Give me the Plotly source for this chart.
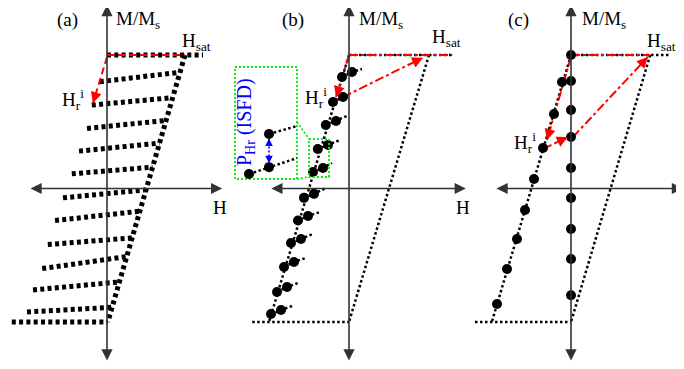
import math
import plotly.graph_objects as go

# ---------------- data (H in arbitrary field units, M in M/Ms) ----------------
# Panel (a): full FORC set
a_top_h = [0.0, 1.2]
a_top_m = [1.0, 1.0]
a_bottom_h = [-1.19, 0.01]
a_bottom_m = [-1.0, -1.0]
a_branch_h = [0.975, 0.01]
a_branch_m = [1.0, -1.0]
a_forc_hr = [-0.09, -0.19, -0.25, -0.35, -0.44, -0.55, -0.65, -0.74, -0.81, -0.925, -1.0]
a_forc_m_start = [0.80, 0.625, 0.45, 0.28, 0.11, -0.07, -0.24, -0.42, -0.60, -0.76, -0.925]
a_forc_h_end = [0.90, 0.81, 0.74, 0.655, 0.57, 0.485, 0.41, 0.31, 0.245, 0.15, 0.06]
a_forc_m_end = [0.87, 0.68, 0.51, 0.34, 0.16, -0.01, -0.17, -0.37, -0.51, -0.70, -0.89]
a_arrow_h = [0.0, -0.175]
a_arrow_m = [0.985, 0.64]
a_sat_h = [0.0, 0.975]
a_sat_m = [1.0, 1.0]

# Panel (b): reversal points + first FORC points
b_desc_h = [1.0, 0.0]
b_desc_m = [1.0, -1.0]
b_asc_h = [0.0, -1.0]
b_asc_m = [1.0, -1.0]
b_bottom_h = [-1.21, 0.0]
b_bottom_m = [-1.0, -1.0]
b_top_h = [0.0, 1.29]
b_top_m = [1.0, 1.0]
b_hr_h = [-0.0875, -0.2, -0.29, -0.39, -0.45, -0.5625, -0.6375, -0.725, -0.8125, -0.9, -0.975]
b_hr_m = [0.835, 0.648, 0.476, 0.296, 0.124, -0.07, -0.24, -0.408, -0.588, -0.775, -0.94]
b_next_h = [0.0375, -0.075, -0.1625, -0.2625, -0.325, -0.4375, -0.5125, -0.6, -0.6875, -0.775, -0.85]
b_next_m = [0.873, 0.685, 0.506, 0.326, 0.154, -0.04, -0.206, -0.378, -0.55, -0.738, -0.91]
b_tail_h = [0.1625, -0.075, -0.025, -0.1125, -0.2125, -0.2875, -0.3625, -0.45, -0.5375, -0.6375, -0.7125]
b_tail_m = [0.895, 0.685, 0.543, 0.363, 0.191, 0.004, -0.176, -0.34, -0.52, -0.708, -0.88]
b_red1_h = [0.0, -0.1625]
b_red1_m = [1.0, 0.685]
b_red2_h = [-0.075, 0.925]
b_red2_m = [0.685, 0.98]
# inset of panel (b)
b_box_h = [-1.425, -0.65, -0.65, -1.425, -1.425]
b_box_m = [0.91, 0.91, 0.071, 0.071, 0.91]
b_zoom_h = [-0.5, -0.25, -0.25, -0.5, -0.5]
b_zoom_m = [0.37, 0.37, 0.086, 0.086, 0.37]
b_link1_h = [-0.65, -0.5]
b_link1_m = [0.498, 0.37]
b_link2_h = [-0.65, -0.5]
b_link2_m = [0.071, 0.086]
b_in_dots_h = [-1.25, -1.0, -1.0]
b_in_dots_m = [0.108, 0.16, 0.408]
b_in_low_h = [-1.25, -0.65]
b_in_low_m = [0.108, 0.228]
b_in_up_h = [-1.0, -0.65]
b_in_up_m = [0.408, 0.468]
b_blue_h = [-1.0, -1.0]
b_blue_m = [0.375, 0.19]

# Panel (c): FORC along the axis
c_desc_h = [0.99, 0.0]
c_desc_m = [1.0, -1.0]
c_asc_h = [0.0, -0.99]
c_asc_m = [1.0, -1.0]
c_bottom_h = [-1.2, 0.0]
c_bottom_m = [-1.0, -1.0]
c_top_h = [0.0, 1.24]
c_top_m = [1.0, 1.0]
c_axis_dot_h = [0.0, 0.0, 0.0, 0.0, 0.0, 0.0, 0.0, 0.0, 0.0]
c_axis_dot_m = [1.0, 0.805, 0.588, 0.386, 0.154, -0.071, -0.303, -0.528, -0.8]
c_branch_dot_h = [-0.1125, -0.2125, -0.35, -0.4625, -0.575, -0.675, -0.8, -0.925]
c_branch_dot_m = [0.798, 0.558, 0.303, 0.071, -0.161, -0.378, -0.603, -0.865]
c_red1_h = [0.0, -0.3]
c_red1_m = [0.985, 0.363]
c_red2_h = [-0.3, -0.04]
c_red2_m = [0.31, 0.386]
c_red3_h = [0.025, 0.96]
c_red3_m = [0.386, 0.985]
c_sat_h = [0.0, 0.99]
c_sat_m = [1.0, 1.0]

# ---------------- geometry / style ----------------
W, HF = 684, 369
PAGE_OFF = 8          # page body margin that shifts the figure in the browser
PX_H = 80.0
PX_M = 133.5
M0_PX = 188.5 - PAGE_OFF
ORIGIN = {"x": 107 - PAGE_OFF, "x2": 349 - PAGE_OFF, "x3": 571 - PAGE_OFF}
FONT = "Liberation Serif"
AXC = "#333333"
RED = "#ff0000"
GREEN = "#00ee00"
BLUE = "#0000ff"
DOT = "2.5px,2.5px"
BEAD = "4px,3.3px"

fig = go.Figure()


def line(ax, h, m, color="black", width=2.5, dash=DOT):
    fig.add_trace(go.Scatter(x=h, y=m, xaxis=ax, yaxis="y", mode="lines",
                             line=dict(color=color, width=width, dash=dash),
                             hoverinfo="skip", showlegend=False))


def dots(ax, h, m, size=10):
    fig.add_trace(go.Scatter(x=h, y=m, xaxis=ax, yaxis="y", mode="markers",
                             marker=dict(color="black", size=size, line=dict(width=0)),
                             hoverinfo="skip", showlegend=False))


def head(ax, h, m, color, L=9, width=2, size=1.1):
    dxp = (h[1] - h[0]) * PX_H
    dyp = -(m[1] - m[0]) * PX_M
    n = math.hypot(dxp, dyp)
    fig.add_annotation(x=h[1], y=m[1], xref=ax, yref="y", text="",
                       showarrow=True, ax=-dxp / n * L, ay=-dyp / n * L,
                       arrowhead=2, arrowsize=size, arrowwidth=width,
                       arrowcolor=color, standoff=0)


def axis_arrow(ax, h0, m0, h1, m1):
    fig.add_annotation(x=h1, y=m1, xref=ax, yref="y", ax=h0, ay=m0,
                       axref=ax, ayref="y", text="", showarrow=True,
                       arrowside="end+start", arrowhead=2, arrowsize=1.4,
                       arrowwidth=1.6, arrowcolor=AXC, standoff=0)


def label(ax, h, m, txt, size=19, color="black", anchor="left", angle=0):
    fig.add_annotation(x=h, y=m, xref=ax, yref="y", text=txt, showarrow=False,
                       xanchor=anchor, yanchor="middle", textangle=angle,
                       font=dict(family=FONT, size=size, color=color))


# ---- panel (a) ----
line("x", a_top_h, a_top_m, width=5, dash=BEAD)
line("x", a_bottom_h, a_bottom_m, width=5, dash=BEAD)
line("x", a_branch_h, a_branch_m, width=5, dash=BEAD)
for i in range(len(a_forc_hr)):
    line("x", [a_forc_hr[i], a_forc_h_end[i]], [a_forc_m_start[i], a_forc_m_end[i]],
         width=5, dash=BEAD)
line("x", a_sat_h, a_sat_m, color=RED, width=2, dash="7px,4px")
line("x", a_arrow_h, a_arrow_m, color=RED, width=2, dash="7px,4px")
head("x", a_arrow_h, a_arrow_m, RED)

# ---- panel (b) ----
line("x2", b_desc_h, b_desc_m)
line("x2", b_asc_h, b_asc_m)
line("x2", b_bottom_h, b_bottom_m)
line("x2", b_top_h, b_top_m)
for i in range(len(b_hr_h)):
    line("x2", [b_hr_h[i], b_next_h[i], b_tail_h[i]], [b_hr_m[i], b_next_m[i], b_tail_m[i]])
line("x2", b_top_h, b_top_m, color=RED, width=2, dash="dashdot")
line("x2", b_red1_h, b_red1_m, color=RED, width=2, dash="dashdot")
line("x2", b_red2_h, b_red2_m, color=RED, width=2, dash="dashdot")
head("x2", b_red1_h, b_red1_m, RED)
head("x2", b_red2_h, b_red2_m, RED)
dots("x2", b_hr_h, b_hr_m)
dots("x2", b_next_h, b_next_m)
# inset
line("x2", b_box_h, b_box_m, color=GREEN, width=1.8, dash="2px,2px")
line("x2", b_zoom_h, b_zoom_m, color=GREEN, width=1.8, dash="2px,2px")
line("x2", b_link1_h, b_link1_m, color=GREEN, width=1.8, dash="2px,2px")
line("x2", b_link2_h, b_link2_m, color=GREEN, width=1.8, dash="2px,2px")
line("x2", b_in_low_h, b_in_low_m)
line("x2", b_in_up_h, b_in_up_m)
line("x2", b_blue_h, b_blue_m, color=BLUE, width=1.6, dash="2px,2px")
head("x2", b_blue_h, b_blue_m, BLUE, L=5, width=1.5, size=1)
head("x2", b_blue_h[::-1], b_blue_m[::-1], BLUE, L=5, width=1.5, size=1)
dots("x2", b_in_dots_h, b_in_dots_m)

# ---- panel (c) ----
line("x3", c_desc_h, c_desc_m)
line("x3", c_asc_h, c_asc_m)
line("x3", c_bottom_h, c_bottom_m)
line("x3", c_top_h, c_top_m)
line("x3", c_sat_h, c_sat_m, color=RED, width=2, dash="dashdot")
line("x3", c_red1_h, c_red1_m, color=RED, width=2, dash="dashdot")
line("x3", c_red2_h, c_red2_m, color=RED, width=2, dash="5px,3px")
line("x3", c_red3_h, c_red3_m, color=RED, width=2, dash="dashdot")
head("x3", c_red1_h, c_red1_m, RED)
head("x3", c_red2_h, c_red2_m, RED)
head("x3", c_red3_h, c_red3_m, RED)

# ---- axes (double arrows) ----
M_TOP, M_BOT = 1.375, -1.30
axis_arrow("x", 0, M_BOT, 0, M_TOP)
axis_arrow("x", -0.975, 0, 1.44, 0)
axis_arrow("x2", 0, M_BOT, 0, M_TOP)
axis_arrow("x2", -0.99, 0, 1.46, 0)
axis_arrow("x3", 0, M_BOT, 0, M_TOP)
axis_arrow("x3", -0.95, 0, 1.40, 0)

dots("x3", c_axis_dot_h, c_axis_dot_m)
dots("x3", c_branch_dot_h, c_branch_dot_m)

# ---- labels ----
HSAT = "H<sub>sat</sub>"
HRI = "H<sub>r</sub><sup>i</sup>"
MMS = "M/M<sub>s</sub>"
label("x", -0.49, 1.262, "(a)", anchor="center")
label("x", 0.0875, 1.262, MMS)
label("x", 0.91, 1.097, HSAT)
label("x", -0.5875, 0.663, HRI)
label("x", 1.30, -0.146, "H")

label("x2", -0.70, 1.262, "(b)", anchor="center")
label("x2", 0.10, 1.262, MMS)
label("x2", 1.01, 1.127, HSAT)
label("x2", -0.575, 0.685, HRI)
label("x2", 1.31, -0.146, "H")
label("x2", -1.30, 0.498, "P<sub>Hr</sub> (ISFD)", size=20, color=BLUE, anchor="center", angle=-90)

label("x3", -0.66, 1.262, "(c)", anchor="center")
label("x3", 0.11, 1.262, MMS)
label("x3", 0.925, 1.097, HSAT)
label("x3", -0.7375, 0.348, HRI)
label("x3", 1.34, -0.146, "H")

layout_axes = {}
for key, ax in [("xaxis", "x"), ("xaxis2", "x2"), ("xaxis3", "x3")]:
    x0 = ORIGIN[ax]
    cfg = dict(range=[-x0 / PX_H, (W - x0) / PX_H], visible=False, domain=[0, 1],
               fixedrange=True)
    if ax != "x":
        cfg["overlaying"] = "x"
        cfg["anchor"] = "y"
    layout_axes[key] = cfg

fig.update_layout(
    width=W, height=HF, margin=dict(l=0, r=0, t=0, b=0),
    paper_bgcolor="white", plot_bgcolor="white",
    yaxis=dict(range=[(M0_PX - HF) / PX_M, M0_PX / PX_M], visible=False,
               domain=[0, 1], fixedrange=True),
    showlegend=False,
    **layout_axes,
)

fig.write_html("out.html")
